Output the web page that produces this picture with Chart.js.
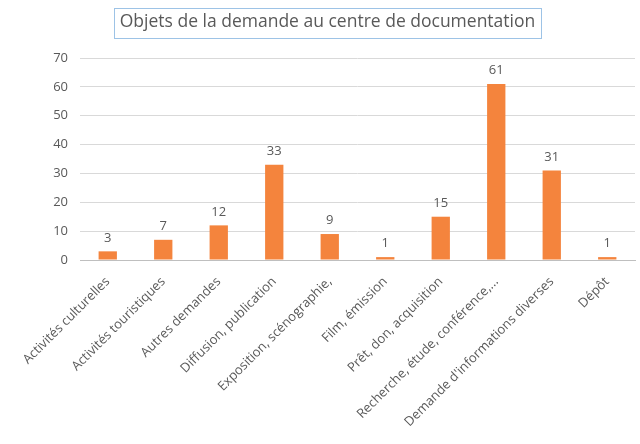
<!DOCTYPE html>
<html>
<head>
<meta charset="utf-8">
<script src="https://cdn.jsdelivr.net/npm/chart.js@4/dist/chart.umd.min.js"></script>
<style>
  body { margin: 0; background: #fff; }
  #wrap { width: 640px; height: 444px; }
</style>
</head>
<body>
<div id="wrap"><canvas id="myChart" width="640" height="444"></canvas></div>
<script>
const titleText = "Objets de la demande au centre de documentation";
const categories = [
  "Activités culturelles",
  "Activités touristiques",
  "Autres demandes",
  "Diffusion, publication",
  "Exposition, scénographie,",
  "Film, émission",
  "Prêt, don, acquisition",
  "Recherche, étude, conférence,...",
  "Demande d'informations diverses",
  "Dépôt",
];
const counts = [3, 7, 12, 33, 9, 1, 15, 61, 31, 1];
const yTicks = [0, 10, 20, 30, 40, 50, 60, 70];

Chart.defaults.font.family = "'Open Sans', sans-serif";
Chart.defaults.color = "#595959";

// value above each bar
const barLabels = {
  id: "barLabels",
  afterDatasetsDraw(chart) {
    const ctx = chart.ctx;
    const meta = chart.getDatasetMeta(0);
    ctx.save();
    ctx.font = "13px 'Open Sans', sans-serif";
    ctx.fillStyle = "#595959";
    ctx.textAlign = "center";
    ctx.textBaseline = "bottom";
    meta.data.forEach((bar, i) => {
      ctx.fillText(counts[i], bar.x, bar.y - 7);
    });
    ctx.restore();
  },
};

// thin blue frame around the title
const titleBox = {
  id: "titleBox",
  afterDraw(chart) {
    const ctx = chart.ctx;
    const tb = chart.titleBlock;
    ctx.save();
    ctx.font = "17.5px 'Open Sans', sans-serif";
    const w = ctx.measureText(titleText).width;
    const cx = (tb.left + tb.right) / 2;
    ctx.strokeStyle = "#9dc3e6";
    ctx.lineWidth = 1;
    ctx.strokeRect(Math.round(cx - w / 2 - 6) + 0.5, 8.5, Math.round(w + 12), 30);
    ctx.restore();
  },
};

new Chart(document.querySelector("#myChart").getContext("2d"), {
  type: "bar",
  data: {
    labels: categories,
    datasets: [
      {
        data: counts,
        backgroundColor: "#f4843d",
        barPercentage: 0.6,
        categoryPercentage: 0.55,
      },
    ],
  },
  options: {
    responsive: false,
    animation: false,
    layout: { padding: { left: 20, right: 5, top: 0, bottom: 0 } },
    plugins: {
      legend: { display: false },
      tooltip: { enabled: false },
      title: {
        display: true,
        text: titleText,
        color: "#595959",
        font: { size: 17.5, weight: "normal" },
        padding: { top: 12, bottom: 25 },
      },
    },
    scales: {
      x: {
        grid: { display: false, drawTicks: false },
        border: { color: "#bfbfbf" },
        ticks: {
          autoSkip: false,
          maxRotation: 45,
          minRotation: 45,
          padding: 14,
          color: "#595959",
          font: { size: 13 },
        },
        afterFit(scale) { scale.height = 184; },
      },
      y: {
        min: 0,
        max: 70,
        afterBuildTicks(scale) { scale.ticks = yTicks.map(v => ({ value: v })); },
        grid: { color: "#d9d9d9", drawTicks: false },
        border: { display: false },
        ticks: { padding: 12, color: "#595959", font: { size: 13 } },
        afterFit(scale) { scale.width = 60; },
      },
    },
  },
  plugins: [barLabels, titleBox],
});
</script>
</body>
</html>
